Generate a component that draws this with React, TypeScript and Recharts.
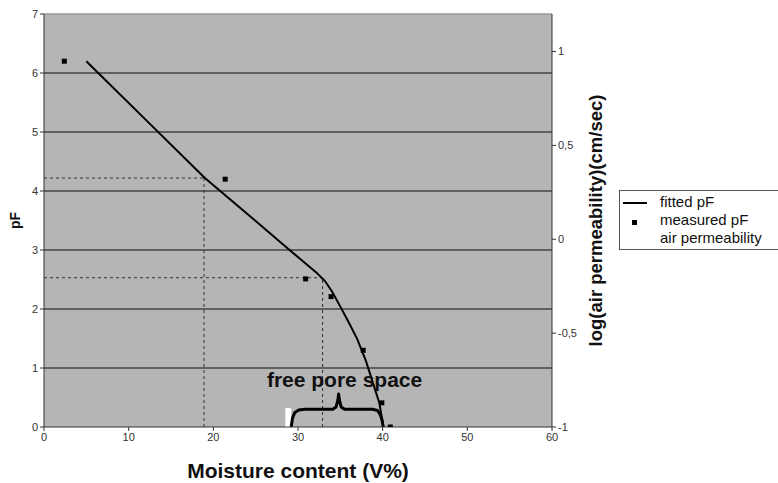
import React from 'react';
import {
  ComposedChart, Line, Scatter, XAxis, YAxis, ZAxis, ReferenceLine, ReferenceArea, ReferenceDot,
} from 'recharts';

const FONT = '"Liberation Sans", Arial, sans-serif';

const xTicks = [0, 10, 20, 30, 40, 50, 60];
const pfTicks = [0, 1, 2, 3, 4, 5, 6, 7];
const gridLevels = [1, 2, 3, 4, 5, 6];
const permTicks = [-1, -0.5, 0, 0.5, 1];

// fitted pF curve (moisture %, pF)
const fittedX = [5, 12, 19, 25, 29, 31, 32.3, 33.2, 34, 35, 36, 37, 38, 39, 39.6, 40.1];
const fittedY = [6.2, 5.21, 4.22, 3.49, 3.0, 2.76, 2.6, 2.47, 2.3, 2.04, 1.77, 1.49, 1.13, 0.68, 0.41, 0];

// measured pF points
const measuredX = [2.4, 21.4, 30.9, 33.9, 37.7, 39.9, 40.9];
const measuredY = [6.2, 4.2, 2.51, 2.21, 1.3, 0.41, 0];

// dashed guide lines: moisture value and pF level
const guideX = [18.9, 32.9];
const guideY = [4.22, 2.53];

// curly brace annotation (free pore space)
const braceX = [29.2, 29.35, 29.6, 30.1, 30.8, 34.1, 34.5, 34.7, 34.8, 34.9, 35.1, 35.5, 38.8, 39.4, 39.75, 39.95, 40.05];
const braceY = [0, 0.15, 0.24, 0.29, 0.3, 0.3, 0.34, 0.45, 0.56, 0.45, 0.34, 0.3, 0.3, 0.28, 0.2, 0.1, 0];

const legendLabels = ['fitted pF', 'measured pF', 'air permeability'];

const fitted = fittedX.map((x, i) => ({ x, y: fittedY[i] }));
const measured = measuredX.map((x, i) => ({ x, y: measuredY[i] }));
const brace = braceX.map((x, i) => ({ x, y: braceY[i] }));

const tickStyle = { fontSize: 11, fill: '#333', fontFamily: FONT };

const LegendBox = () => (
  <div
    style={{
      position: 'absolute',
      left: 619,
      top: 190,
      width: 170,
      height: 60,
      border: '1px solid #555',
      background: '#fff',
      fontFamily: FONT,
      fontSize: 15,
      color: '#111',
      boxSizing: 'border-box',
    }}
  >
    <svg width={40} height={58} style={{ position: 'absolute', left: 0, top: 0 }}>
      <line x1={3} x2={27} y1={12} y2={12} stroke="#000" strokeWidth={2} />
      <rect x={12} y={29} width={5} height={5} fill="#000" />
    </svg>
    <div style={{ position: 'absolute', left: 40, top: 2, lineHeight: '18px', whiteSpace: 'nowrap' }}>
      {legendLabels.map((l) => (
        <div key={l}>{l}</div>
      ))}
    </div>
  </div>
);

export default function App() {
  return (
    <div style={{ position: 'absolute', left: 0, top: 0, width: 778, height: 483, background: '#fff', overflow: 'hidden' }}>
      <ComposedChart
        width={778}
        height={483}
        margin={{ top: 14, right: 166, bottom: 0, left: 0 }}
        style={{ fontFamily: FONT }}
      >
        <XAxis
          xAxisId="x"
          dataKey="x"
          type="number"
          domain={[0, 60]}
          ticks={xTicks}
          height={56}
          tick={tickStyle}
          tickSize={4}
          stroke="#333"
          allowDataOverflow
          label={{ value: 'Moisture content (V%)', position: 'insideBottom', offset: 5, fontSize: 21, fontWeight: 'bold', fill: '#111', fontFamily: FONT }}
        />
        <YAxis
          yAxisId="pf"
          type="number"
          domain={[0, 7]}
          ticks={pfTicks}
          width={44}
          tick={tickStyle}
          tickSize={4}
          stroke="#333"
          allowDataOverflow
          label={{ value: 'pF', angle: -90, position: 'center', dx: -7, fontSize: 14, fontWeight: 'bold', fill: '#111', fontFamily: FONT }}
        />
        <YAxis
          yAxisId="perm"
          orientation="right"
          type="number"
          domain={[-1, 1.2]}
          ticks={permTicks}
          width={60}
          tick={tickStyle}
          tickSize={4}
          stroke="#333"
          allowDataOverflow
          tickFormatter={(v: number) => String(v).replace('.', ',')}
          label={{ value: 'log(air permeability)(cm/sec)', angle: -90, position: 'center', dx: 13, fontSize: 18.5, fontWeight: 'bold', fill: '#111', fontFamily: FONT }}
        />
        <ZAxis range={[25, 25]} />
        <ReferenceArea xAxisId="x" yAxisId="pf" x1={0} x2={60} y1={0} y2={7} fill="#b5b5b5" fillOpacity={1} stroke="none" />
        <ReferenceLine xAxisId="x" yAxisId="pf" y={7} stroke="#9a9a9a" strokeWidth={1.5} />
        {gridLevels.map((g) => (
          <ReferenceLine key={g} xAxisId="x" yAxisId="pf" y={g} stroke="#454545" strokeWidth={1.6} />
        ))}
        {guideX.map((gx, i) => (
          <ReferenceLine
            key={'h' + i}
            xAxisId="x"
            yAxisId="pf"
            segment={[{ x: 0, y: guideY[i] }, { x: gx, y: guideY[i] }]}
            stroke="#333"
            strokeDasharray="3 3"
          />
        ))}
        {guideX.map((gx, i) => (
          <ReferenceLine
            key={'v' + i}
            xAxisId="x"
            yAxisId="pf"
            segment={[{ x: gx, y: 0 }, { x: gx, y: guideY[i] }]}
            stroke="#333"
            strokeDasharray="3 3"
          />
        ))}
        <ReferenceArea xAxisId="x" yAxisId="pf" x1={28.5} x2={29.2} y1={0} y2={0.32} fill="#ffffff" fillOpacity={1} stroke="none" />
        <Line
          xAxisId="x"
          yAxisId="pf"
          data={fitted}
          dataKey="y"
          type="linear"
          stroke="#000"
          strokeWidth={2}
          strokeLinejoin="round"
          dot={false}
          isAnimationActive={false}
          legendType="none"
        />
        <Line
          xAxisId="x"
          yAxisId="pf"
          data={brace}
          dataKey="y"
          type="linear"
          stroke="#000"
          strokeWidth={3}
          strokeLinejoin="round"
          dot={false}
          isAnimationActive={false}
          legendType="none"
        />
        <Scatter
          xAxisId="x"
          yAxisId="pf"
          data={measured}
          dataKey="y"
          fill="#000"
          shape="square"
          isAnimationActive={false}
          legendType="none"
        />
        <ReferenceDot
          xAxisId="x"
          yAxisId="pf"
          x={35.5}
          y={0.8}
          r={0}
          fill="none"
          stroke="none"
          label={{ value: 'free pore space', position: 'center', fontSize: 21, fontWeight: 'bold', fill: '#111', fontFamily: FONT }}
        />
      </ComposedChart>
      <LegendBox />
    </div>
  );
}
